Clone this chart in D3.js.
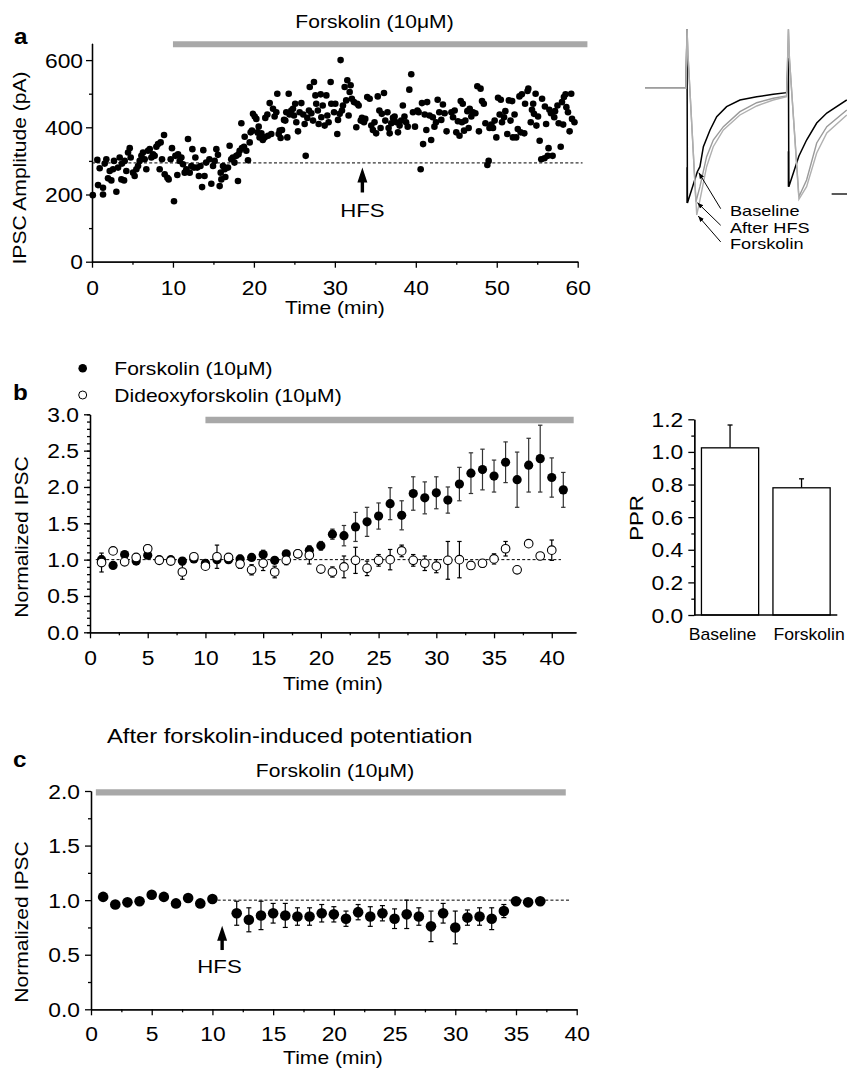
<!DOCTYPE html>
<html><head><meta charset="utf-8">
<script src="https://cdn.jsdelivr.net/npm/d3@7"></script>
<style>
body{margin:0;background:#fff}
text{font-family:"Liberation Sans",Arial,Helvetica,sans-serif;fill:#000}
</style>
</head><body>
<svg id="fig" width="847" height="1070"></svg>
<script>
// ---------------- DATA ----------------
// Panel a: individual IPSC amplitudes [time (min), amplitude (pA)]
const panelA = [
[0.1,198],[0.66,303],[0.75,228],[0.95,278],[1.36,220],[1.36,200],[1.57,292],[1.77,305],[1.98,248],[2.19,270],[2.39,242],[2.6,275],[2.72,300],[3.01,208],[3.22,280],[3.42,310],[3.63,245],[3.71,292],[3.96,242],[4.04,300],[4.24,270],[4.45,325],[4.66,338],[4.78,310],[5.07,265],[5.27,255],[5.48,275],[5.69,285],[5.89,300],[6.1,315],[6.3,325],[6.51,305],[6.71,275],[6.92,330],[7.13,335],[7.33,310],[7.54,320],[7.74,315],[7.95,342],[8.16,350],[8.36,275],[8.48,355],[8.65,305],[8.9,377],[8.98,260],[9.31,250],[9.47,245],[9.72,305],[9.88,338],[10.13,180],[10.3,315],[10.54,258],[10.63,320],[10.83,300],[11.04,310],[11.24,290],[11.45,265],[11.65,275],[11.86,365],[12.07,265],[12.27,285],[12.4,335],[12.6,280],[12.77,310],[13.0,280],[13.2,255],[13.4,285],[13.6,222],[13.75,332],[13.9,255],[14.1,295],
[14.5,305],[14.74,232],[14.95,285],[15.15,300],[15.36,335],[15.56,318],[15.77,225],[15.9,265],[15.98,245],[16.18,285],[16.39,275],[16.47,252],[16.8,280],[17.0,345],[17.2,305],[17.4,310],[17.6,295],[17.83,315],[18.03,240],[18.1,320],[18.24,330],[18.45,412],[18.53,338],[18.78,342],[18.86,372],[19.06,330],[19.27,302],[19.48,355],[19.6,385],[19.76,390],[19.89,440],[20.1,432],[20.3,425],[20.42,385],[20.59,402],[20.7,370],[20.92,382],[21.1,362],[21.33,370],[21.41,428],[21.66,438],[21.74,375],[21.95,472],[22.15,380],[22.36,455],[22.56,432],[22.77,445],[22.89,500],[23.06,380],[23.18,390],[23.3,368],[23.47,392],[23.72,422],[23.88,420],[24.0,445],[24.13,370],[24.3,500],[24.4,438],[24.62,450],[24.83,455],[24.95,435],[25.1,470],[25.24,415],[25.45,388],[25.65,445],[25.86,472],[26.1,438],[26.27,410],[26.4,315],[26.6,428],[26.8,450],[26.9,520],[27.1,442],[27.3,420],[27.42,535],[27.6,495],[27.7,470],[27.9,450],[28.0,410],[28.25,498],[28.33,430],[28.5,465],[28.74,405],[28.95,495],[29.07,435],[29.23,415],[29.48,535],
[29.56,470],[29.9,445],[30.06,470],[30.3,380],[30.39,422],[30.6,440],[30.71,600],[30.88,450],[31.0,465],[31.21,520],[31.4,480],[31.54,540],[31.7,435],[31.83,505],[31.95,525],[32.1,485],[32.36,475],[32.65,400],[32.77,470],[32.94,465],[33.2,420],[33.35,428],[33.6,415],[33.76,425],[34.0,490],[34.3,485],[34.5,405],[34.7,392],[34.9,415],[35.1,382],[35.3,492],[35.5,450],[35.65,398],[35.8,440],[36.07,502],[36.23,420],[36.5,445],[36.64,398],[36.77,382],[36.97,412],[37.18,428],[37.38,432],[37.6,415],[37.8,385],[38.0,405],[38.2,420],[38.4,465],[38.6,432],[38.8,415],[39.0,402],[39.2,512],[39.44,558],[39.65,445],[39.9,402],[40.2,450],[40.35,445],[40.6,275],[40.76,472],[40.9,350],[41.1,438],[41.3,392],[41.4,475],[41.7,435],[41.9,362],[42.1,430],[42.3,402],[42.5,415],[42.7,482],[42.9,445],[43.15,422],[43.35,468],[43.56,442],[43.8,388],
[44.4,445],[44.6,430],[44.8,450],[45.0,385],[45.2,418],[45.4,375],[45.55,478],[45.7,415],[45.8,470],[45.96,390],[46.12,420],[46.37,448],[46.53,398],[46.66,455],[46.86,432],[47.07,445],[47.36,442],[47.6,522],[47.8,388],[48.0,515],[48.18,478],[48.4,470],[48.6,412],[48.84,288],[49.0,300],[49.1,398],[49.33,408],[49.54,398],[49.74,420],[49.95,370],[50.16,488],[50.36,438],[50.5,482],[50.65,415],[50.9,430],[51.06,448],[51.3,380],[51.5,480],[51.7,420],[51.9,478],[52.0,370],[52.2,438],[52.4,370],[52.6,395],[52.8,492],[52.95,385],[53.1,498],[53.4,382],[53.5,470],[53.8,508],[53.9,515],[54.2,415],[54.35,452],[54.5,470],[54.6,440],[54.8,500],[54.9,405],[55.1,432],[55.3,360],[55.5,305],[55.6,485],[55.9,308],[55.95,462],[56.1,410],[56.3,315],[56.4,338],[56.5,452],[56.7,442],[56.9,315],[57.1,430],[57.2,448],[57.5,465],[57.65,412],[57.9,342],[58.06,475],[58.2,408],[58.3,490],[58.5,498],[58.6,460],[58.8,445],[59.0,388],[59.2,500],[59.3,425],[59.6,415]
];
const aTicksMajor = [0, 200, 400, 600];
const aTicksMinor = [100, 300, 500];
const aXTicks = [0, 10, 20, 30, 40, 50, 60];
const aBaseline = 294;
const aHfsTime = 33.4;
const aDrugPeriod = [10, 61.2];

// Inset traces [time (ms, arbitrary), current (pA, arbitrary)]
const traceBaseline = [[0,0],[20.3,0],[20.8,59],[21.0,-114.7],[25.9,-83.4],[27.2,-78.4],[28.9,-58.4],[32.2,-41.7],[35.5,-28.4],[40.4,-18.4],[47.0,-11.7],[55.3,-8.4],[63.5,-6],[70.1,-4.4],[71.0,30.3],[71.2,-98.4],[76.2,-67.7],[80,-51.7],[85,-34.7],[90,-24.7],[99.9,-11.7]];
const traceHFS = [[0,0],[20.3,0],[20.8,59],[21.3,33],[25.2,-113.4],[27.2,-98.4],[30.5,-68.4],[33.8,-51.7],[38.8,-38.4],[47.0,-23.4],[55.3,-14.4],[63.5,-10],[70.1,-7.7],[71.0,59],[71.5,30],[76.2,-108.4],[80,-91.7],[85,-54.7],[90,-38.4],[99.9,-21.7]];
const traceForsk = [[0,0],[20.3,0],[20.8,59],[21.3,33],[25.6,-126.7],[27.2,-111.7],[30.5,-78.4],[33.8,-58.4],[38.8,-41.7],[47.0,-26.7],[55.3,-17.7],[63.5,-11.7],[70.1,-8.4],[71.0,59],[71.5,30],[76.2,-111],[80,-98.4],[85,-64.7],[90,-44.7],[99.9,-26.7]];
const traceLabels = ["Baseline", "After HFS", "Forskolin"];

// Panel b
const bTime = [1,2,3,4,5,6,7,8,9,10,11,12,13,14,15,16,17,18,19,20,21,22,23,24,25,26,27,28,29,30,31,32,33,34,35,36,37,38,39,40,41];
const bForsk = [1.00,0.92,1.07,0.98,1.06,1.00,1.00,0.98,1.01,0.95,1.00,1.00,1.01,1.03,1.07,0.99,1.08,1.08,1.13,1.19,1.35,1.33,1.45,1.52,1.60,1.77,1.61,1.91,1.85,1.92,1.82,2.04,2.19,2.24,2.15,2.34,2.10,2.30,2.39,2.13,1.96];
const bForskErr = [0.05,0.03,0.04,0.04,0.04,0.03,0.03,0.04,0.03,0.04,0.04,0.04,0.05,0.04,0.06,0.04,0.04,0.05,0.06,0.06,0.07,0.14,0.2,0.2,0.18,0.22,0.2,0.23,0.22,0.22,0.18,0.23,0.28,0.28,0.22,0.28,0.38,0.37,0.46,0.27,0.24];
const bDideoxy = [0.96,1.12,0.97,1.03,1.15,0.99,0.98,0.83,1.04,0.91,1.04,1.03,0.94,0.86,0.95,0.83,0.99,1.08,1.06,0.87,0.83,0.90,0.99,0.88,0.99,1.00,1.12,0.99,0.95,0.91,0.99,1.00,0.92,0.95,1.01,1.15,0.86,1.22,1.05,1.13];
const bDideoxyErr = [0.13,0.03,0.04,0.04,0.05,0.03,0.03,0.1,0.03,0.04,0.16,0.04,0.06,0.07,0.1,0.08,0.06,0.04,0.12,0.04,0.07,0.15,0.18,0.1,0.08,0.14,0.08,0.08,0.1,0.09,0.26,0.25,0.04,0.05,0.07,0.1,0.04,0.02,0.03,0.14];
const bYMajor = [0, 0.5, 1.0, 1.5, 2.0, 2.5, 3.0];
const bXMajor = [0, 5, 10, 15, 20, 25, 30, 35, 40];
const bDrugPeriod = [10, 41.9];
const bLegend = ["Forskolin (10\u03bcM)", "Dideoxyforskolin (10\u03bcM)"];

// PPR bars
const pprCats = ["Baseline", "Forskolin"];
const pprVals = [1.025, 0.78];
const pprErr = [0.14, 0.055];
const pprTicks = [0, 0.2, 0.4, 0.6, 0.8, 1.0, 1.2];

// Panel c
const cTime = [1,2,3,4,5,6,7,8,9,10,12,13,14,15,16,17,18,19,20,21,22,23,24,25,26,27,28,29,30,31,32,33,34,35,36,37];
const cVal = [1.03,0.96,0.98,0.99,1.05,1.03,0.97,1.02,0.97,1.01,0.88,0.82,0.86,0.88,0.86,0.85,0.85,0.88,0.87,0.83,0.89,0.85,0.88,0.83,0.87,0.85,0.76,0.88,0.75,0.84,0.85,0.83,0.90,0.99,0.98,0.99];
const cErr = [0,0,0,0,0,0,0,0,0,0,0.11,0.11,0.13,0.09,0.11,0.08,0.08,0.08,0.07,0.07,0.07,0.09,0.07,0.09,0.13,0.08,0.14,0.09,0.15,0.07,0.08,0.1,0.06,0.02,0.02,0.02];
const cYMajor = [0, 0.5, 1.0, 1.5, 2.0];
const cXMajor = [0, 5, 10, 15, 20, 25, 30, 35, 40];
const cHfsTime = 10.8;
const cDrugPeriod = [0.4, 39.1];

// ---------------- DRAWING ----------------
const FS = 18, TFS = 19.5, SX = 1.17, GRAY = "#a8a8a8";
const svg = d3.select("#fig");

function label(g, x, y, s, o = {}) {
  return g.append("text")
    .attr("transform", `translate(${x},${y})${o.rotate ? ` rotate(${o.rotate})` : ""} scale(${o.sx ?? SX},1)`)
    .attr("text-anchor", o.anchor || "start")
    .style("font-size", (o.size || FS) + "px")
    .style("font-weight", o.weight || "normal")
    .text(s);
}
function styleAxis(a) {
  a.attr("font-size", null).attr("font-family", null);
  a.selectAll("path,line").attr("stroke", "#000").attr("stroke-width", 1.3);
}
function yAxis(scale, x, major, minor, fmt, gap) {
  const m = svg.append("g").attr("transform", `translate(${x},0)`)
    .call(d3.axisLeft(scale).tickValues(minor).tickSize(3).tickSizeOuter(0).tickFormat(""));
  styleAxis(m);
  const a = svg.append("g").attr("transform", `translate(${x},0)`)
    .call(d3.axisLeft(scale).tickValues(major).tickSize(6).tickSizeOuter(0).tickFormat(fmt));
  styleAxis(a);
  a.selectAll("text").attr("x", -gap / SX).attr("dy", "0.36em")
    .attr("transform", `scale(${SX},1)`).style("font-size", TFS + "px");
}
function xAxis(scale, y, major, minor, fmt, off) {
  const m = svg.append("g").attr("transform", `translate(0,${y})`)
    .call(d3.axisBottom(scale).tickValues(minor).tickSize(3).tickSizeOuter(0).tickFormat(""));
  styleAxis(m);
  const a = svg.append("g").attr("transform", `translate(0,${y})`)
    .call(d3.axisBottom(scale).tickValues(major).tickSize(6).tickSizeOuter(0).tickFormat(fmt));
  styleAxis(a);
  a.selectAll("text").attr("y", off).attr("dy", null)
    .attr("transform", `scale(${SX},1)`).style("font-size", TFS + "px");
}
function drugBar(xs, ys, period, v, w) {
  svg.append("line").attr("x1", xs(period[0])).attr("x2", xs(period[1]))
    .attr("y1", ys(v)).attr("y2", ys(v)).attr("stroke", GRAY).attr("stroke-width", w);
}
function dashed(xs, ys, x0, x1, v) {
  svg.append("line").attr("x1", xs(x0)).attr("x2", xs(x1)).attr("y1", ys(v)).attr("y2", ys(v))
    .attr("stroke", "#000").attr("stroke-width", 1).attr("stroke-dasharray", "3,2.2");
}
function upArrow(x, yTip, yTail) {
  svg.append("line").attr("x1", x).attr("x2", x).attr("y1", yTip + 8).attr("y2", yTail)
    .attr("stroke", "#000").attr("stroke-width", 3.4);
  svg.append("path").attr("d", `M${x},${yTip} L${x - 5},${yTip + 15} L${x + 5},${yTip + 15} Z`).attr("fill", "#000");
}
function errBars(data, xs, ys, color, cap) {
  const g = svg.append("g").attr("stroke", color).attr("stroke-width", 1.2);
  data.filter(d => d.e > 0).forEach(d => {
    const x = xs(d.t), y1 = ys(d.v + d.e), y2 = ys(d.v - d.e);
    g.append("line").attr("x1", x).attr("x2", x).attr("y1", y1).attr("y2", y2);
    g.append("line").attr("x1", x - cap).attr("x2", x + cap).attr("y1", y1).attr("y2", y1);
    g.append("line").attr("x1", x - cap).attr("x2", x + cap).attr("y1", y2).attr("y2", y2);
  });
}

// ===== Panel a =====
const xa = d3.scaleLinear().domain([0, 60]).range([92, 577.7]);
const ya = d3.scaleLinear().domain([0, 650]).range([261.7, 43.3]);
drugBar(xa, ya, aDrugPeriod, ya.invert(44.3), 6);
label(svg, 374.5, 27.5, "Forskolin (10\u03bcM)", { anchor: "middle" });
label(svg, 14, 43.5, "a", { weight: "bold", size: 22, sx: 1.1 });
dashed(xa, ya, 0, 60.6, aBaseline);
svg.append("g").selectAll("circle").data(panelA).join("circle")
  .attr("cx", d => xa(d[0])).attr("cy", d => ya(d[1])).attr("r", 3.3).attr("fill", "#000");
yAxis(ya, 92, aTicksMajor, aTicksMinor, d3.format("d"), 9);
xAxis(xa, 261.7, aXTicks, d3.range(5, 60, 10), d3.format("d"), 33.5);
label(svg, 26, 168, "IPSC Amplitude (pA)", { anchor: "middle", rotate: -90 });
label(svg, 335, 314, "Time (min)", { anchor: "middle" });
upArrow(xa(aHfsTime), ya(280), ya(206));
label(svg, xa(aHfsTime), 216.5, "HFS", { anchor: "middle", size: 19 });

// ===== Inset traces =====
const xt = d3.scaleLinear().domain([0, 100]).range([645, 847]);
const yt = d3.scaleLinear().domain([0, -130]).range([88.3, 218.3]);
const tline = d3.line().x(d => xt(d[0])).y(d => yt(d[1]));
svg.append("path").datum(traceBaseline).attr("d", tline).attr("fill", "none").attr("stroke", "#000").attr("stroke-width", 1.5);
svg.append("path").datum(traceHFS).attr("d", tline).attr("fill", "none").attr("stroke", "#9a9a9a").attr("stroke-width", 1.4);
svg.append("path").datum(traceForsk).attr("d", tline).attr("fill", "none").attr("stroke", "#b0b0b0").attr("stroke-width", 1.4);
svg.append("line").attr("x1", xt(20.9)).attr("x2", xt(20.9)).attr("y1", yt(-79)).attr("y2", yt(-114.7)).attr("stroke", "#000").attr("stroke-width", 1.5);
svg.append("line").attr("x1", xt(71.0)).attr("x2", xt(71.0)).attr("y1", yt(-63)).attr("y2", yt(-98.4)).attr("stroke", "#000").attr("stroke-width", 1.5);
svg.append("line").attr("x1", xt(92.4)).attr("x2", xt(100)).attr("y1", yt(-105.7)).attr("y2", yt(-105.7)).attr("stroke", "#000").attr("stroke-width", 1.3);
const peaks = [traceBaseline[4], traceHFS[4], traceForsk[4]];
const defs = svg.append("defs");
defs.append("marker").attr("id", "ah").attr("viewBox", "0 0 10 10").attr("refX", 10).attr("refY", 5)
  .attr("markerWidth", 6).attr("markerHeight", 6).attr("orient", "auto")
  .append("path").attr("d", "M0,1 L10,5 L0,9 Z").attr("fill", "#000");
traceLabels.forEach((s, i) => {
  const ly = 216.2 + i * 16.6;
  const p = peaks[i];
  svg.append("line").attr("x1", 720.7).attr("y1", ly - 7.5).attr("x2", xt(p[0]) + 1.5).attr("y2", yt(p[1]) + 1)
    .attr("stroke", "#000").attr("stroke-width", 1).attr("marker-end", "url(#ah)");
  label(svg, 730, ly, s, { size: 14.5, sx: 1.25 });
});

// ===== Panel b =====
const xb = d3.scaleLinear().domain([0, 42.1]).range([90, 576]);
const yb = d3.scaleLinear().domain([0, 3]).range([632.3, 414.3]);
label(svg, 13, 400, "b", { weight: "bold", size: 22, sx: 1.1 });
svg.append("circle").attr("cx", 82.7).attr("cy", 368.3).attr("r", 4.3).attr("fill", "#000");
svg.append("circle").attr("cx", 82.7).attr("cy", 395).attr("r", 4).attr("fill", "#fff").attr("stroke", "#000").attr("stroke-width", 1);
label(svg, 114.3, 375, bLegend[0]);
label(svg, 114.3, 401.7, bLegend[1]);
drugBar(xb, yb, bDrugPeriod, yb.invert(420), 6.5);
dashed(xb, yb, 0.5, 40.8, 1.0);
const bF = bTime.map((t, i) => ({ t, v: bForsk[i], e: bForskErr[i] }));
const bD = bTime.slice(0, bDideoxy.length).map((t, i) => ({ t, v: bDideoxy[i], e: bDideoxyErr[i] }));
errBars(bF, xb, yb, "#333", 2.2);
svg.append("g").selectAll("circle").data(bF).join("circle")
  .attr("cx", d => xb(d.t)).attr("cy", d => yb(d.v)).attr("r", 4.6).attr("fill", "#000");
errBars(bD, xb, yb, "#000", 2.2);
svg.append("g").selectAll("circle").data(bD).join("circle")
  .attr("cx", d => xb(d.t)).attr("cy", d => yb(d.v)).attr("r", 4.3).attr("fill", "#fff").attr("stroke", "#000").attr("stroke-width", 1.1);
yAxis(yb, 90, bYMajor, d3.range(0, 3.01, 0.1).map(v => +v.toFixed(1)), d3.format(".1f"), 11);
xAxis(xb, 632.3, bXMajor, d3.range(2.5, 42, 5), d3.format("d"), 33);
label(svg, 28, 537, "Normalized IPSC", { anchor: "middle", rotate: -90 });
label(svg, 333, 690, "Time (min)", { anchor: "middle" });

// ===== PPR bars =====
const xp = d3.scaleBand().domain(pprCats).range([694.3, 837.3]).paddingInner(0.2).paddingOuter(0.1);
const yp = d3.scaleLinear().domain([0, 1.2]).range([615, 419.3]);
pprCats.forEach((c, i) => {
  const cx = xp(c) + xp.bandwidth() / 2;
  svg.append("line").attr("x1", cx).attr("x2", cx).attr("y1", yp(pprVals[i])).attr("y2", yp(pprVals[i] + pprErr[i])).attr("stroke", "#000").attr("stroke-width", 1.3);
  svg.append("line").attr("x1", cx - 2.5).attr("x2", cx + 2.5).attr("y1", yp(pprVals[i] + pprErr[i])).attr("y2", yp(pprVals[i] + pprErr[i])).attr("stroke", "#000").attr("stroke-width", 1.3);
});
svg.append("g").selectAll("rect").data(pprCats).join("rect")
  .attr("x", d => xp(d)).attr("width", xp.bandwidth())
  .attr("y", (d, i) => yp(pprVals[i])).attr("height", (d, i) => yp(0) - yp(pprVals[i]))
  .attr("fill", "#fff").attr("stroke", "#000").attr("stroke-width", 1.3);
yAxis(yp, 694.3, pprTicks.map(v => +v.toFixed(1)), d3.range(0.1, 1.2, 0.2).map(v => +v.toFixed(1)), d3.format(".1f"), 11);
svg.append("line").attr("x1", 694.3).attr("x2", 837.3).attr("y1", yp(0)).attr("y2", yp(0)).attr("stroke", "#000").attr("stroke-width", 1.3);
pprCats.forEach((c, i) => {
  label(svg, xp(c) + xp.bandwidth() / 2 + (i === 0 ? -7.5 : 7.5), 640, c, { anchor: "middle", size: 16, sx: 1.1 });
});
label(svg, 643, 518, "PPR", { anchor: "middle", rotate: -90, size: 19 });

// ===== Panel c =====
const xc = d3.scaleLinear().domain([0, 40]).range([91, 576.7]);
const yc = d3.scaleLinear().domain([0, 2]).range([1009.3, 791]);
label(svg, 289.7, 743, "After forskolin-induced potentiation", { anchor: "middle", size: 20.3 });
label(svg, 13, 766.7, "c", { weight: "bold", size: 22, sx: 1.1 });
label(svg, 335, 776.7, "Forskolin (10\u03bcM)", { anchor: "middle" });
drugBar(xc, yc, cDrugPeriod, yc.invert(792.3), 6.3);
dashed(xc, yc, 10, 39.4, 1.0);
const cD = cTime.map((t, i) => ({ t, v: cVal[i], e: cErr[i] }));
errBars(cD, xc, yc, "#000", 2.5);
svg.append("g").selectAll("circle").data(cD).join("circle")
  .attr("cx", d => xc(d.t)).attr("cy", d => yc(d.v)).attr("r", 5.3).attr("fill", "#000");
yAxis(yc, 91, cYMajor, d3.range(0.25, 2, 0.5), d3.format(".1f"), 11);
xAxis(xc, 1009.3, cXMajor, d3.range(2.5, 40, 5), d3.format("d"), 31.5);
label(svg, 28, 922, "Normalized IPSC", { anchor: "middle", rotate: -90 });
label(svg, 333, 1064, "Time (min)", { anchor: "middle" });
upArrow(xc(cHfsTime), yc(0.766), yc(0.543));
label(svg, 219.5, 973, "HFS", { anchor: "middle", size: 19 });
</script>
</body></html>
